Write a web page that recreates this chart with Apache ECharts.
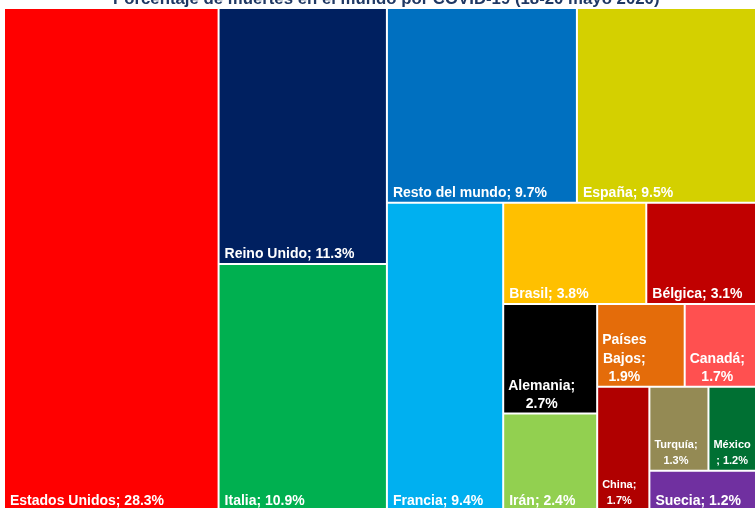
<!DOCTYPE html>
<html>
<head>
<meta charset="utf-8">
<script src="https://cdn.jsdelivr.net/npm/echarts@6/dist/echarts.min.js"></script>
<style>
  html, body { margin: 0; padding: 0; background: #fff; }
  #chart { width: 755px; height: 508px; }
</style>
</head>
<body>
<div id="chart"></div>
<script>
// datos (% de muertes por país)
const paises = ['Estados Unidos', 'Reino Unido', 'Italia', 'Resto del mundo', 'España', 'Francia',
  'Brasil', 'Bélgica', 'Alemania', 'Irán', 'Países Bajos', 'Canadá', 'China', 'Turquía', 'México', 'Suecia']
const porcentajes = [28.3, 11.3, 10.9, 9.7, 9.5, 9.4, 3.8, 3.1, 2.7, 2.4, 1.9, 1.7, 1.7, 1.3, 1.2, 1.2]
const colores = ['#ff0000', '#002060', '#00b050', '#0070c0', '#d4d000', '#00b0f0',
  '#ffc000', '#c00000', '#000000', '#92d050', '#e46c0a', '#ff5050', '#b00000', '#948a54', '#007033', '#7030a0']
// agrupación de las cajas, como en el treemap de Excel (índices en paises)
const grupos = [[0], [1, 2], [3, 4], [5], [6, 7], [8, 9], [10, 11], [12], [13, 14], [15]]
// etiquetas partidas en varias líneas (cajas pequeñas): líneas y tamaño de letra
const etiquetasCortas = {
  'Alemania': [['Alemania;', '2.7%'], 14],
  'Países Bajos': [['Países', 'Bajos;', '1.9%'], 14],
  'Canadá': [['Canadá;', '1.7%'], 14],
  'China': [['China;', '1.7%'], 11],
  'Turquía': [['Turquía;', '1.3%'], 11],
  'México': [['México', '; 1.2%'], 11]
}

const chart = echarts.init(document.getElementById('chart'))

// ancho del texto, para dejar el bloque pegado a la izquierda con líneas centradas
const ctx = document.createElement('canvas').getContext('2d')
function anchoTexto (lineas, fs) {
  ctx.font = 'bold ' + fs + 'px "Liberation Sans"'
  return Math.max(...lineas.map(l => ctx.measureText(l).width))
}

function hoja (i) {
  const p = paises[i]
  const item = { name: p, value: porcentajes[i], itemStyle: { color: colores[i] } }
  const corta = etiquetasCortas[p]
  if (corta) {
    const fs = corta[1]
    item.label = {
      formatter: corta[0].join('\n'),
      align: 'center',
      offset: [anchoTexto(corta[0], fs) / 2 + 4, fs < 12 ? 1 : 3],
      fontSize: fs,
      lineHeight: fs < 12 ? 16 : 18.5
    }
  }
  return item
}

const data = grupos.map(g => {
  if (g.length === 1) return hoja(g[0])
  return { name: '', itemStyle: { color: '#fff' }, children: g.map(hoja) }
})

chart.setOption({
  title: {
    text: 'Porcentaje de muertes en el mundo por COVID-19 (18-20 mayo 2020)',
    left: 108,
    top: -14,
    textStyle: { color: '#1f3864', fontSize: 16.8, fontWeight: 'bold', fontFamily: 'Liberation Sans' }
  },
  series: [{
    type: 'treemap',
    left: 5,
    top: 9,
    width: 757,
    height: 501,
    roam: false,
    nodeClick: false,
    sort: false,
    squareRatio: 0.01,
    breadcrumb: { show: false },
    animation: false,
    itemStyle: { gapWidth: 2, borderWidth: 0, borderColor: '#fff' },
    label: {
      show: true,
      position: 'insideBottomLeft',
      distance: 0,
      padding: [5, 5, 2, 5],
      overflow: 'none',
      color: '#fff',
      fontSize: 14,
      fontWeight: 'bold',
      fontFamily: 'Liberation Sans',
      formatter: p => p.name + '; ' + p.value + '%'
    },
    data: data
  }]
})
</script>
</body>
</html>
